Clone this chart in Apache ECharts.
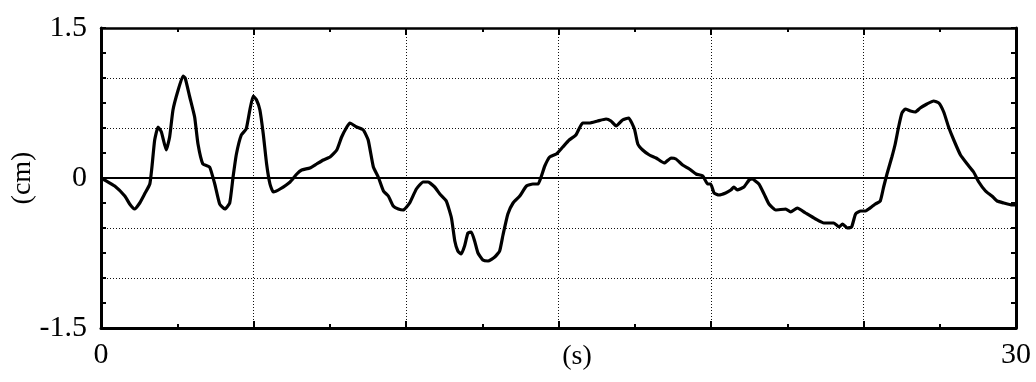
<!DOCTYPE html>
<html>
<head>
<meta charset="utf-8">
<script src="https://cdn.jsdelivr.net/npm/echarts@6/dist/echarts.min.js"></script>
<style>
html,body{margin:0;padding:0;background:#fff;}
#chart{width:1036px;height:382px;}
</style>
</head>
<body>
<div id="chart"></div>
<script>
// time (s)
var times = [0, 0.12, 0.45, 0.78, 0.94, 1.10, 1.27, 1.43, 1.60, 1.67, 1.76, 1.87, 1.98, 2.14, 2.25, 2.36, 2.52, 2.69, 2.76, 2.91,
  3.07, 3.18, 3.34, 3.56, 3.73, 3.89, 4.06, 4.22, 4.33, 4.44, 4.60, 4.76, 4.88, 4.99, 5.10, 5.21, 5.32, 5.43, 5.54, 5.65,
  5.87, 6.20, 6.42, 6.58, 6.85, 7.07, 7.29, 7.51, 7.73, 7.89, 8.06, 8.16, 8.38, 8.60, 8.76, 8.93, 9.09, 9.26, 9.42, 9.58,
  9.75, 9.91, 10.12, 10.34, 10.56, 10.72, 10.94, 11.11, 11.32, 11.49, 11.60, 11.70, 11.81, 11.92, 12.03, 12.14, 12.25, 12.36, 12.52, 12.69,
  12.91, 13.07, 13.18, 13.34, 13.51, 13.73, 13.95, 14.16, 14.33, 14.44, 14.55, 14.71, 14.93, 15.14, 15.35, 15.57, 15.79, 16.01, 16.28, 16.56,
  16.72, 16.89, 17.10, 17.30, 17.49, 17.60, 17.76, 17.98, 18.20, 18.47, 18.69, 18.85, 19.07, 19.29, 19.51, 19.73, 19.89, 19.99, 20.10, 20.26,
  20.48, 20.65, 20.75, 20.86, 21.08, 21.25, 21.35, 21.57, 21.74, 21.90, 22.12, 22.45, 22.61, 22.83, 23.10, 23.43, 23.70, 24.03, 24.20, 24.31,
  24.47, 24.61, 24.74, 24.91, 25.07, 25.17, 25.39, 25.55, 25.66, 25.77, 25.93, 26.04, 26.15, 26.26, 26.37, 26.54, 26.70, 26.86, 27.08, 27.30,
  27.47, 27.63, 27.79, 27.96, 28.18, 28.40, 28.61, 28.78, 29.00, 29.21, 29.38, 29.60, 29.87, 30];
// displacement (cm)
var values = [0, -0.02, -0.08, -0.18, -0.26, -0.31, -0.25, -0.16, -0.06, 0.11, 0.38, 0.51, 0.46, 0.28, 0.41, 0.68, 0.87, 1.02, 1.00, 0.81,
  0.61, 0.34, 0.14, 0.11, -0.06, -0.26, -0.31, -0.25, 0.01, 0.24, 0.43, 0.49, 0.68, 0.82, 0.78, 0.68, 0.44, 0.14, -0.06, -0.14,
  -0.11, -0.04, 0.04, 0.08, 0.10, 0.14, 0.18, 0.21, 0.28, 0.41, 0.51, 0.55, 0.51, 0.48, 0.38, 0.11, 0.01, -0.13, -0.18, -0.28,
  -0.31, -0.32, -0.25, -0.11, -0.04, -0.04, -0.09, -0.16, -0.23, -0.40, -0.63, -0.73, -0.76, -0.68, -0.55, -0.54, -0.63, -0.75, -0.82, -0.83,
  -0.79, -0.73, -0.57, -0.36, -0.25, -0.18, -0.08, -0.06, -0.06, 0.02, 0.12, 0.21, 0.24, 0.31, 0.38, 0.43, 0.55, 0.55, 0.57, 0.59,
  0.57, 0.52, 0.58, 0.60, 0.49, 0.34, 0.28, 0.23, 0.20, 0.15, 0.20, 0.19, 0.13, 0.09, 0.04, 0.02, -0.06, -0.06, -0.15, -0.17,
  -0.15, -0.12, -0.09, -0.12, -0.09, -0.02, -0.01, -0.06, -0.16, -0.26, -0.32, -0.31, -0.34, -0.30, -0.35, -0.41, -0.45, -0.45, -0.49, -0.46,
  -0.50, -0.49, -0.36, -0.33, -0.33, -0.31, -0.26, -0.23, -0.09, 0.04, 0.21, 0.34, 0.51, 0.65, 0.69, 0.67, 0.66, 0.70, 0.74, 0.77,
  0.75, 0.66, 0.51, 0.38, 0.23, 0.14, 0.06, -0.04, -0.13, -0.18, -0.23, -0.25, -0.27, -0.27];
var xTickLabels = ['0', '30'];
var yTickLabels = ['-1.5', '0', '1.5'];

var seriesData = times.map(function (t, i) { return [t, values[i]]; });

var font = '"Liberation Serif", "Times New Roman", serif';
var dotted = { color: '#111', width: 1, type: [1, 2] };

function xLabel(v) {
  var s = String(v);
  return xTickLabels.indexOf(s) >= 0 ? s : '';
}
function yLabel(v) {
  var s = String(Math.round(v * 100) / 100);
  return yTickLabels.indexOf(s) >= 0 ? s : '';
}

var chart = echarts.init(document.getElementById('chart'), null, { renderer: 'canvas' });
chart.setOption({
  animation: false,
  backgroundColor: '#fff',
  grid: { left: 101, right: 20, top: 28, bottom: 54, containLabel: false, outerBoundsMode: 'none' },
  xAxis: [{
    type: 'value', min: 0, max: 30, interval: 5, position: 'bottom',
    name: '(s)', nameLocation: 'middle', nameGap: 15, nameMoveOverlap: false,
    nameTextStyle: { fontFamily: font, fontSize: 28, color: '#000', padding: [0, 0, 0, 37], verticalAlign: 'top' },
    axisLine: { show: true, onZero: false, lineStyle: { color: '#000', width: 3 } },
    axisTick: { show: true, inside: true, length: 7, lineStyle: { color: '#000', width: 2 } },
    minorTick: { show: true, splitNumber: 2, length: 4, lineStyle: { color: '#000', width: 2 } },
    axisLabel: { formatter: xLabel, fontFamily: font, fontSize: 30, color: '#000', margin: 12, showMinLabel: true, showMaxLabel: true },
    splitLine: { show: true, lineStyle: dotted }
  }, {
    type: 'value', min: 0, max: 30, interval: 5, position: 'top',
    axisLine: { show: true, onZero: false, lineStyle: { color: '#000', width: 2.5 } },
    axisTick: { show: true, inside: true, length: 7, lineStyle: { color: '#000', width: 2 } },
    minorTick: { show: true, splitNumber: 2, length: 4, lineStyle: { color: '#000', width: 2 } },
    axisLabel: { show: false },
    splitLine: { show: false }
  }],
  yAxis: [{
    type: 'value', min: -1.5, max: 1.5, interval: 0.5, position: 'left',
    name: '(cm)', nameLocation: 'middle', nameGap: 64, nameRotate: 90, nameMoveOverlap: false,
    nameTextStyle: { fontFamily: font, fontSize: 28, color: '#000' },
    axisLine: { show: true, onZero: false, lineStyle: { color: '#000', width: 3 } },
    axisTick: { show: true, inside: true, length: 5, lineStyle: { color: '#000', width: 2 } },
    minorTick: { show: true, splitNumber: 2, length: 5, lineStyle: { color: '#000', width: 2 } },
    axisLabel: { formatter: yLabel, fontFamily: font, fontSize: 30, color: '#000', margin: 14 },
    splitLine: { show: true, lineStyle: dotted }
  }, {
    type: 'value', min: -1.5, max: 1.5, interval: 0.5, position: 'right',
    axisLine: { show: true, onZero: false, lineStyle: { color: '#000', width: 3 } },
    axisTick: { show: true, inside: true, length: 5, lineStyle: { color: '#000', width: 2 } },
    minorTick: { show: true, splitNumber: 2, length: 5, lineStyle: { color: '#000', width: 2 } },
    axisLabel: { show: false },
    splitLine: { show: false }
  }],
  series: [{
    type: 'line',
    xAxisIndex: 0, yAxisIndex: 0,
    data: seriesData,
    showSymbol: false,
    smooth: 0.15,
    lineStyle: { color: '#000', width: 3.2 },
    markLine: {
      silent: true, symbol: 'none', label: { show: false },
      lineStyle: { color: '#000', width: 2, type: 'solid' },
      data: [{ yAxis: 0 }]
    },
    z: 3
  }]
});
</script>
</body>
</html>
